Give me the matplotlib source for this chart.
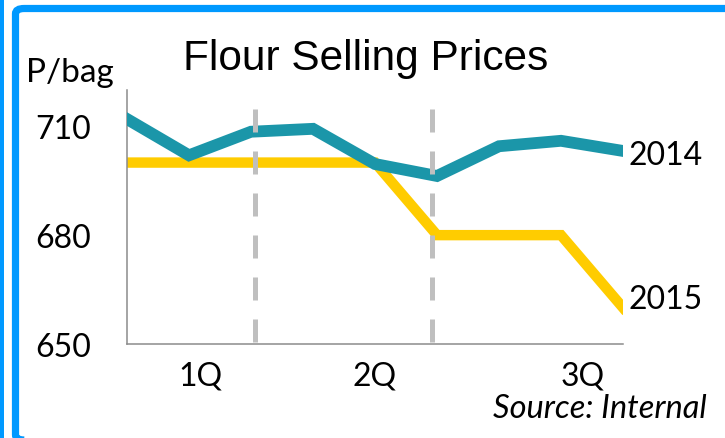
import matplotlib
matplotlib.use('Agg')
import matplotlib.pyplot as plt
from matplotlib.patches import FancyBboxPatch, Rectangle

# data
periods = list(range(9))
price_2014 = [712, 702, 708.5, 709.3, 699.6, 696.3, 704.5, 706, 703.2]
price_2015 = [700, 700, 700, 700, 700, 680, 680, 680, 660]
quarter_labels = ['1Q', '2Q', '3Q']
quarter_pos = [1.18, 4.0, 7.35]
quarter_breaks = [2.07, 4.92]
y_ticks = [650, 680, 710]

W, H = 725, 439
fig = plt.figure(figsize=(W / 100, H / 100), dpi=100)
fig.patch.set_facecolor('white')

# blue slide frame
blue = '#0099FF'
fig.add_artist(Rectangle((0, 0), 3.5 / W, 1, transform=fig.transFigure,
                         facecolor=blue, edgecolor='none'))
fig.add_artist(FancyBboxPatch((15.5 / W, 1 - 441 / H), (745 - 15.5) / W, (441 - 9.5) / H,
                              boxstyle='round,pad=0,rounding_size=0.012',
                              transform=fig.transFigure, facecolor='none',
                              edgecolor=blue, linewidth=5.2))

ax = fig.add_axes([127 / W, 1 - 345 / H, (623 - 127) / W, (345 - 91) / H])
ax.set_xlim(0, 8)
ax.set_ylim(650, 720)

ax.plot(periods, price_2015, color='#FFCC00', lw=7.5, solid_joinstyle='miter', zorder=2)
ax.plot(periods, price_2014, color='#1B96A9', lw=8.5, solid_joinstyle='miter', zorder=3)

for xb in quarter_breaks:
    ax.plot([xb, xb], [714.7, 650], color='#BFBFBF', lw=3.6,
            dashes=(4.6, 3.8), zorder=4, clip_on=False)

for s in ['top', 'right']:
    ax.spines[s].set_visible(False)
for s in ['left', 'bottom']:
    ax.spines[s].set_color('#8C8C8C')
    ax.spines[s].set_linewidth(1.1)

font = 'Lato'
ax.set_yticks(y_ticks)
ax.set_yticklabels([str(v) for v in y_ticks], fontsize=23, fontname=font)
ax.set_xticks(quarter_pos)
ax.set_xticklabels(quarter_labels, fontsize=23, fontname=font)
ax.tick_params(axis='both', length=0)
ax.tick_params(axis='y', pad=26)
ax.tick_params(axis='x', pad=12)

ax.annotate('2014', (periods[-1], price_2014[-1]), xytext=(4, -3), textcoords='offset points',
            fontsize=23, fontname=font, va='center', ha='left', annotation_clip=False)
ax.annotate('2015', (periods[-1], price_2015[-1]), xytext=(4, 6), textcoords='offset points',
            fontsize=23, fontname=font, va='center', ha='left', annotation_clip=False)

fig.text(366 / W, 1 - 70 / H, 'Flour Selling Prices', fontsize=30.5,
         fontname='Liberation Sans', ha='center', va='baseline')
fig.text(70 / W, 1 - 82 / H, 'P/bag', fontsize=24, fontname=font, ha='center', va='baseline')
fig.text(707 / W, 1 - 418 / H, 'Source: Internal', fontsize=23.5, fontname=font,
         style='italic', ha='right', va='baseline')

fig.savefig('out.png', dpi=100)
